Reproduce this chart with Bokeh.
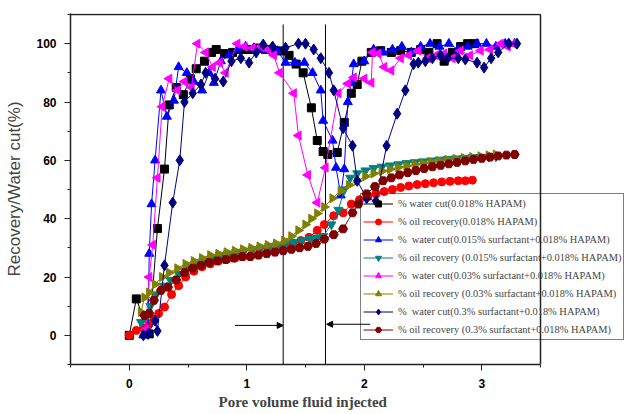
from bokeh.plotting import figure
from bokeh.models import Range1d, FixedTicker, Arrow, NormalHead, Legend, LegendItem, Title
from bokeh.embed import file_html
from bokeh.resources import INLINE

# ---- data (pore volume injected, %) ----
wc_018_x = [0.0, 0.06, 0.17, 0.24, 0.30, 0.34, 0.40, 0.46, 0.52, 0.57, 0.64, 0.70, 0.74, 0.81, 0.88, 0.95, 1.02, 1.09, 1.16, 1.23,
            1.30, 1.36, 1.42, 1.48, 1.55, 1.60, 1.65, 1.69, 1.77, 1.83, 1.89, 1.94, 1.98, 2.06, 2.14, 2.23, 2.31, 2.40, 2.48, 2.55,
            2.62, 2.68, 2.75, 2.82, 2.88, 2.94]
wc_018_y = [0, 12.5, 0.5, 36.6, 57, 79, 85, 82.5, 88, 91.4, 94, 97, 98, 96.6, 97, 98, 98, 98.5, 98, 97.5,
            97.5, 96, 93, 90, 78, 66.8, 63, 62, 62.7, 73, 83, 86, 94, 97, 97.6, 97, 97.6, 97, 98, 97,
            100, 94, 97, 99, 100, 100]

or_018_x = [0, 0.06, 0.12, 0.17, 0.21, 0.25, 0.30, 0.36, 0.42, 0.48, 0.55, 0.62, 0.69, 0.76, 0.83, 0.90, 0.97, 1.04, 1.11, 1.18,
            1.25, 1.32, 1.39, 1.46, 1.53, 1.60, 1.66, 1.74, 1.82, 1.89, 1.96, 2.03, 2.10, 2.17, 2.24, 2.31, 2.38, 2.45, 2.52, 2.59,
            2.66, 2.73, 2.80, 2.86, 2.92]
or_018_y = [0, 1.7, 2.5, 4, 5.5, 7.5, 9.7, 14, 17, 20, 22, 23.5, 24.5, 25.5, 26, 26.5, 27, 27.5, 28.5, 29,
            29.5, 30.5, 31.5, 32.5, 33.6, 36, 38, 41, 42, 45, 46.5, 47.5, 48.5, 49.3, 50, 50.7, 51.2, 51.7, 52, 52.3,
            52.6, 52.8, 53, 53, 53.2]

wc_015_x = [0.12, 0.16, 0.17, 0.19, 0.22, 0.27, 0.32, 0.38, 0.42, 0.49, 0.55, 0.62, 0.68, 0.72, 0.78, 0.85, 0.92, 0.99, 1.06, 1.13,
            1.20, 1.26, 1.33, 1.41, 1.49, 1.56, 1.63, 1.65, 1.73, 1.76, 1.80, 1.83, 1.86, 1.89, 1.91, 2.00, 2.08, 2.16, 2.24, 2.32,
            2.40, 2.48, 2.56, 2.64, 2.72, 2.80, 2.88, 2.96, 3.04, 3.12, 3.20, 3.28]
wc_015_y = [0, 1, 28, 45, 60, 84, 75, 80.5, 92, 90, 87, 84, 90, 86.6, 94, 96, 98, 99, 98.5, 98,
            98, 97.5, 93.5, 93.5, 93.5, 90, 84, 73.6, 66.8, 57.5, 48, 57, 80, 86.6, 93, 94, 98, 97, 98, 99,
            97, 99, 100, 99, 100, 98, 99, 100, 100, 99, 100, 100]

or_015_x = [0.10, 0.14, 0.18, 0.23, 0.29, 0.35, 0.42, 0.49, 0.56, 0.63, 0.70, 0.77, 0.84, 0.91, 0.98, 1.05, 1.12, 1.19, 1.26, 1.33,
            1.40, 1.47, 1.54, 1.60, 1.65, 1.72, 1.78, 1.83, 1.88, 1.94, 2.01, 2.08, 2.15, 2.22, 2.29, 2.36, 2.43, 2.50, 2.57, 2.64,
            2.71, 2.78, 2.85, 2.92, 2.99, 3.06, 3.12]
or_015_y = [4.5, 6, 10, 14, 17, 19, 21, 23, 24.5, 25.5, 26.5, 27.5, 28, 28.5, 29, 29.5, 30, 30.5, 31, 31.5,
            32, 32.5, 33, 33.5, 34, 38, 43, 50, 54, 55.5, 56.5, 57.3, 57.8, 58.2, 58.6, 59, 59.3, 59.6, 59.9, 60.2,
            60.4, 60.6, 60.8, 61, 61.1, 61.2, 61.3]

wc_03_x = [0.14, 0.17, 0.20, 0.24, 0.28, 0.34, 0.41, 0.47, 0.53, 0.58, 0.65, 0.71, 0.77, 0.82, 0.92, 0.98, 1.05, 1.12, 1.18, 1.23,
           1.28, 1.40, 1.44, 1.52, 1.60, 1.67, 1.78, 1.86, 1.91, 2.00, 2.06, 2.07, 2.12, 2.17, 2.23, 2.31, 2.38, 2.46, 2.54, 2.61,
           2.68, 2.75, 2.82, 2.90, 2.99, 3.07, 3.16, 3.22, 3.27]
wc_03_y = [2, 20, 31, 54, 78.4, 88, 84, 87, 85, 100, 97, 92, 93.5, 90, 100, 99, 98.5, 99, 98, 96,
           90, 83, 68.5, 55, 45.5, 57.5, 83, 86.3, 88.4, 88, 86.6, 97, 96.6, 92, 90.8, 95, 96, 97.6, 95, 96,
           96.6, 95, 97.6, 96, 97.6, 98, 100, 99, 100]

or_03_x = [0.10, 0.13, 0.17, 0.22, 0.28, 0.34, 0.41, 0.48, 0.55, 0.62, 0.69, 0.76, 0.83, 0.90, 0.97, 1.04, 1.11, 1.18, 1.25, 1.32,
           1.38, 1.44, 1.50, 1.55, 1.60, 1.66, 1.73, 1.80, 1.87, 1.94, 2.01, 2.08, 2.15, 2.22, 2.29, 2.36, 2.43, 2.50, 2.57, 2.64,
           2.71, 2.78, 2.85, 2.92, 2.99, 3.06, 3.12]
or_03_y = [8, 13, 14.7, 17.5, 20, 21.5, 23, 24.5, 25.5, 26.5, 27.5, 28, 28.5, 29, 29.5, 30, 30.5, 31, 31.5, 32.5,
           34, 36, 38, 40, 41.8, 44, 47, 49.5, 51.5, 53, 54.5, 55.5, 56.3, 57, 57.6, 58.1, 58.6, 59, 59.4, 59.8,
           60.2, 60.5, 60.8, 61.1, 61.4, 61.7, 62]

wc_3_x = [0.12, 0.16, 0.22, 0.24, 0.30, 0.37, 0.43, 0.47, 0.54, 0.61, 0.65, 0.73, 0.80, 0.87, 0.95, 1.02, 1.08, 1.14, 1.22, 1.33,
          1.44, 1.50, 1.57, 1.63, 1.70, 1.74, 1.82, 1.90, 1.94, 2.02, 2.10, 2.19, 2.28, 2.35, 2.42, 2.46, 2.52, 2.58, 2.65, 2.71,
          2.80, 2.86, 2.96, 3.02, 3.08, 3.14, 3.23, 3.30]
wc_3_y = [0, 0.5, 5, 1.5, 24, 45.5, 60, 80, 83, 86, 90, 88, 87, 94, 95, 93.5, 97, 99.7, 99, 98.6,
          100, 100, 98, 95, 90, 84, 71, 65, 53, 47, 46, 65, 76, 84, 93, 93.5, 94, 95, 96, 95,
          95, 94.6, 93.5, 91.8, 95, 97, 100, 100]

or_3_x = [0.13, 0.17, 0.21, 0.27, 0.33, 0.40, 0.47, 0.54, 0.61, 0.68, 0.75, 0.82, 0.89, 0.96, 1.03, 1.10, 1.17, 1.24, 1.31, 1.38,
          1.45, 1.52, 1.59, 1.66, 1.74, 1.82, 1.90, 1.95, 2.02, 2.09, 2.16, 2.23, 2.30, 2.37, 2.44, 2.51, 2.58, 2.65, 2.72, 2.79,
          2.86, 2.93, 3.00, 3.07, 3.14, 3.21, 3.28]
or_3_y = [6.8, 7.5, 12, 15.4, 16.5, 19, 21.5, 23, 24, 25, 25.5, 26, 26.5, 27, 27, 27.5, 28, 28.5, 29, 29.5,
          30, 30.5, 31.5, 33, 34.5, 36.5, 42, 45, 48.5, 51, 53, 54, 55, 55.8, 56.5, 57.2, 57.8, 58.3, 58.8, 59.3,
          59.8, 60.3, 60.7, 61.1, 61.5, 61.8, 62]

labels = [
    "% water cut(0.018% HAPAM)",
    "% oil recovery(0.018% HAPAM)",
    "%  water cut(0.015% surfactant+0.018% HAPAM)",
    "% oil recovery (0.015% surfactant+0.018% HAPAM)",
    "%  water cut(0.03% surfactant+0.018% HAPAM)",
    "% oil recovery (0.03% surfactant+0.018% HAPAM)",
    "%  water cut(0.3% surfactant+0.018% HAPAM)",
    "% oil recovery (0.3% surfactant+0.018% HAPAM)",
]
x_ticks = [0, 1, 2, 3]
x_minor = [-0.5, 0.5, 1.5, 2.5, 3.5]
y_ticks = [0, 20, 40, 60, 80, 100]
y_minor = [-10, 10, 30, 50, 70, 90, 110]
x_lim = [-0.5, 3.5]
y_lim = [-10, 110]
vline_x = [1.31, 1.67]

colors = ["#000000", "#ff0000", "#0000ff", "#008080", "#ff00ff", "#808000", "#000080", "#800000"]
markers = ["square", "circle", "triangle", "inverted_triangle", "triangle", "triangle", "diamond", "hex"]
angles = [0, 0, 0, 0, 1.5708, -1.5708, 0, 0]
sizes = [8, 8, 9, 9, 9, 9, 11, 9]
xs = [wc_018_x, or_018_x, wc_015_x, or_015_x, wc_03_x, or_03_x, wc_3_x, or_3_x]
ys = [wc_018_y, or_018_y, wc_015_y, or_015_y, wc_03_y, or_03_y, wc_3_y, or_3_y]

# frame spans 70..627 px horizontally so the legend may run past the drawn box (x = 3.5)
px_per_unit = 470 / 4.0
x_end = x_lim[0] + 557 / px_per_unit
y_end = y_lim[1] + 1.0 / (350 / 120.0)

p = figure(width=627, height=414, output_backend="svg", toolbar_location=None,
           x_range=Range1d(x_lim[0], x_end), y_range=Range1d(y_lim[0], y_end),
           min_border_left=70, min_border_right=0, min_border_top=13, min_border_bottom=50)
p.grid.visible = False
p.outline_line_color = None
p.background_fill_color = "white"
p.border_fill_color = "white"

# box top and right edges
p.segment(x0=[x_lim[0], x_lim[1]], y0=[y_lim[1], y_lim[0]], x1=[x_lim[1], x_lim[1]], y1=[y_lim[1], y_lim[1]],
          line_color="#222222", line_width=1.5)

# vertical marker lines and arrows
p.segment(x0=vline_x, y0=[-10, -10], x1=vline_x, y1=[106.6, 106.6], line_color="black", line_width=1)
p.add_layout(Arrow(x_start=0.90, y_start=3.4, x_end=vline_x[0], y_end=3.4, line_width=1,
                   end=NormalHead(size=6, fill_color="black", line_color="black")))
p.add_layout(Arrow(x_start=2.05, y_start=3.8, x_end=vline_x[1] + 0.01, y_end=3.8, line_width=1,
                   end=NormalHead(size=6, fill_color="black", line_color="black")))

items = []
for x, y, c, m, a, s, lab in zip(xs, ys, colors, markers, angles, sizes, labels):
    lr = p.line(x, y, line_color=c, line_width=1)
    sr = p.scatter(x, y, marker=m, angle=a, size=s, fill_color=c, line_color=c)
    items.append(LegendItem(label=lab, renderers=[lr, sr]))

legend = Legend(items=items, location=(290, 24), background_fill_alpha=0,
                border_line_color="black", border_line_width=1,
                label_text_font="Liberation Serif", label_text_font_size="10.4px",
                glyph_width=30, glyph_height=15, label_height=15, spacing=3,
                padding=2, margin=0, label_standoff=5)
p.add_layout(legend, "center")

for ax in (p.xaxis[0], p.yaxis[0]):
    ax.axis_line_width = 1.5
    ax.axis_line_color = "#222222"
    ax.major_tick_line_color = "#222222"
    ax.minor_tick_line_color = "#222222"
    ax.major_tick_out = 6
    ax.major_tick_in = 0
    ax.minor_tick_out = 3
    ax.minor_tick_in = 0
    ax.major_label_text_font = "Liberation Sans"
    ax.major_label_text_font_style = "bold"
    ax.major_label_text_font_size = "12px"
    ax.major_label_text_color = "black"

p.xaxis[0].bounds = (x_lim[0], x_lim[1])
p.xaxis[0].ticker = FixedTicker(ticks=x_ticks, minor_ticks=x_minor)
p.yaxis[0].ticker = FixedTicker(ticks=y_ticks, minor_ticks=y_minor)
p.xaxis[0].major_label_standoff = 8
p.yaxis[0].major_label_standoff = 8

p.yaxis[0].axis_label = "Recovery/Water cut(%)"
p.yaxis[0].axis_label_text_font = "Liberation Sans"
p.yaxis[0].axis_label_text_font_style = "normal"
p.yaxis[0].axis_label_text_font_size = "17px"
p.yaxis[0].axis_label_standoff = 9

p.add_layout(Title(text="Pore volume fluid injected", align="left", offset=148, standoff=3,
                   text_font="Liberation Serif", text_font_style="bold", text_font_size="15px"), "below")

open("out.html", "w").write(file_html(p, INLINE))
